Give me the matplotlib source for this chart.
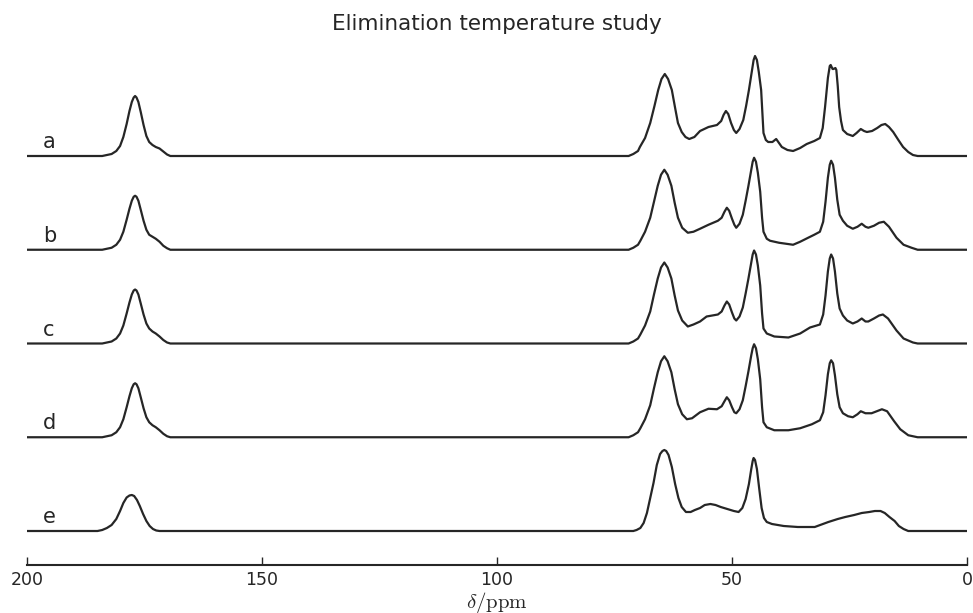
import numpy as np
import matplotlib
matplotlib.use('Agg')
import matplotlib.pyplot as plt

# stacked 13C spectra, intensity (arb. units), chemical shift in ppm
labels = ['a', 'b', 'c', 'd', 'e']

carbonyl_ppm = [200, 184, 183, 182, 181, 180.2, 179.5, 178.8, 178.2, 177.7, 177.3, 177.0,
                176.7, 176.3, 175.8, 175.2, 174.6, 174.0, 173.3, 172.6, 171.8, 171.0, 170.2, 169.5]
carbonyl_a = [0, 0, 1, 2, 5, 10, 19, 32, 45, 54, 58.5, 60, 58.5, 54, 44, 31, 20, 14, 11, 9, 7.5, 4.5, 1.5, 0]
carbonyl_b = [0, 0, 1, 2, 5, 10, 18, 30, 41, 49, 53, 54, 53, 49, 40, 29, 20, 15, 13, 11, 8, 4, 1.5, 0]
carbonyl_c = [0, 0, 1, 2, 5, 10, 18, 30, 41, 49, 53, 54, 53, 49, 40, 29, 20, 15, 12, 10, 7, 3.5, 1, 0]
carbonyl_d = [0, 0, 1, 2, 5, 10, 18, 30, 41, 49, 53, 54, 53, 49, 40, 29, 20, 15, 12, 10, 7, 3.5, 1, 0]

carbonyl_e_ppm = [200, 185, 184, 183, 182, 181, 180.2, 179.5, 178.8, 178.2, 177.7, 177.2,
                  176.6, 176.0, 175.3, 174.6, 173.9, 173.2, 172.5, 171.8]
carbonyl_e = [0, 0, 1, 3, 6, 12, 20, 28, 33.5, 35.5, 36, 35, 31, 25, 17, 10, 5, 2, 0.5, 0]

ali_a_ppm = [72, 71, 70, 69.6, 68.5, 67.4, 66.5, 65.7, 65, 64.3, 63.6, 62.8, 62.1, 61.5, 60.7,
             59.9, 59.1, 58, 56.8, 55, 53.2, 52.3, 51.8, 51.3, 50.8, 50.2, 49.6, 49.1, 48.4,
             47.6, 47, 46.4, 45.8, 45.4, 45.1, 44.7, 44.3, 43.8, 43.5, 43.3, 42.8, 42.3, 41.4,
             40.6, 40.0, 39.4, 38.2, 37.0, 35.5, 34.1, 32.5, 31.3, 30.7, 30.2, 29.6, 29.2, 29.0,
             28.6, 28.4, 28.0, 27.8, 27.5, 27.2, 26.8, 26.4, 25.5, 24.3, 23.5, 22.6, 21.9, 21.3,
             20.2, 19.1, 18.2, 17.4, 16.6, 15.7, 14.6, 13.6, 12.5, 11.5, 10.5, 0]
ali_a = [0, 2, 5, 9, 18, 33, 50, 66, 77, 82, 77, 66, 48, 33, 24,
         19, 17, 19, 25, 29, 31, 35, 41, 45, 42, 33, 26, 23, 27,
         36, 50, 66, 84, 96, 100, 96, 84, 66, 40, 23, 16, 14, 14,
         17, 13, 9, 6, 5, 8, 12, 15, 18, 28, 49, 78, 90, 91,
         87, 87, 88, 86, 70, 49, 35, 26, 22, 20, 23, 27, 25, 24,
         25, 28, 31, 32, 29, 24, 16, 9, 4, 1, 0, 0]

ali_b_ppm = [72, 71, 70, 69.5, 68.5, 67.4, 66.6, 65.8, 65.1, 64.4, 63.7, 62.9, 62.2, 61.5, 60.6,
             59.4, 58.2, 56.8, 55, 53, 52.2, 51.6, 51.1, 50.6, 50, 49.5, 49.1, 48.4, 47.7, 47.1,
             46.5, 45.9, 45.6, 45.3, 44.9, 44.5, 44.0, 43.6, 43.3, 42.6, 41.9, 40, 37, 35.5, 33.8,
             32.5, 31.3, 30.6, 30.1, 29.6, 29.2, 28.9, 28.5, 28.1, 27.6, 27.1, 26.4, 25.5, 24.3,
             23.3, 22.4, 21.6, 21.0, 19.8, 18.7, 17.7, 16.6, 15.0, 13.5, 11.8, 10.5, 0]
ali_b = [0, 2, 5, 9, 18, 32, 48, 64, 75, 80, 75, 64, 47, 32, 22,
         17, 18, 21, 25, 29, 32, 38, 42, 39, 31, 25, 22, 26, 35, 49,
         64, 80, 88, 92, 88, 77, 58, 32, 18, 11, 9, 7, 5, 8, 12,
         15, 18, 28, 48, 72, 85, 89, 85, 72, 50, 35, 29, 24, 21,
         23, 26, 23, 22, 24, 27, 28, 23, 12, 5, 2, 0, 0]

ali_c_ppm = [72, 71, 70, 69.5, 68.5, 67.4, 66.6, 65.8, 65.1, 64.4, 63.7, 62.9, 62.2, 61.5, 60.6,
             59.4, 58.2, 56.8, 55.4, 53, 52.2, 51.6, 51.1, 50.6, 50, 49.5, 49.1, 48.4, 47.7, 47.1,
             46.5, 45.9, 45.6, 45.3, 44.9, 44.5, 44.0, 43.6, 43.3, 42.6, 41, 38, 35.5, 33.4, 31.3,
             30.6, 30.1, 29.6, 29.2, 28.9, 28.5, 28.1, 27.6, 27.1, 26.4, 25.5, 24.3, 23.3, 22.4,
             21.6, 21, 19.8, 18.7, 17.9, 16.8, 15, 13.5, 11.5, 10.5, 0]
ali_c = [0, 2, 5, 9, 18, 32, 49, 65, 76, 81, 76, 65, 48, 33, 23,
         17, 19, 22, 27, 29, 32, 38, 42, 39, 31, 25, 23, 27, 36, 50,
         65, 81, 89, 93, 89, 78, 58, 30, 15, 10, 7, 6, 10, 16, 19,
         29, 48, 72, 85, 89, 85, 72, 50, 35, 28, 23, 20, 22, 25,
         22, 22, 25, 28, 29, 25, 13, 5, 1, 0, 0]

ali_d_ppm = [72, 71, 70, 69.5, 68.5, 67.4, 66.6, 65.8, 65.1, 64.4, 63.7, 62.9, 62.2, 61.5, 60.6,
             59.6, 58.5, 56.8, 55, 53.2, 52.2, 51.6, 51.1, 50.6, 50, 49.5, 49.1, 48.4, 47.7, 47.1,
             46.5, 45.9, 45.6, 45.3, 44.9, 44.5, 44.0, 43.6, 43.3, 42.6, 41, 38, 35.5, 33, 31.3,
             30.6, 30.1, 29.6, 29.2, 28.9, 28.5, 28.1, 27.6, 27.1, 26.4, 25.3, 24.3, 23.3, 22.6,
             21.6, 20.3, 19.2, 18.1, 17, 15.5, 14.2, 12.5, 11.5, 10.5, 0]
ali_d = [0, 2, 5, 9, 18, 32, 49, 65, 76, 81, 76, 65, 48, 33, 23,
         18, 19, 25, 28.5, 28, 31, 36, 40, 37, 30, 25, 24, 28, 37, 51,
         66, 82, 89, 93, 89, 78, 58, 30, 15, 10, 7, 7, 9, 13, 17,
         25, 42, 63, 74, 77, 74, 62, 43, 30, 24, 21, 20, 23, 26,
         24, 24, 26, 28, 26, 16, 8, 2, 1, 0, 0]

ali_e_ppm = [71, 70.3, 69.5, 68.8, 68.1, 67.4, 66.7, 66, 65.3, 64.8, 64.4, 64, 63.5, 62.8, 62.1,
             61.4, 60.7, 59.8, 58.8, 57.9, 56.8, 55.8, 54.6, 53.5, 52.4, 51, 49.6, 48.6, 47.8,
             47.1, 46.4, 45.9, 45.6, 45.4, 45.1, 44.7, 44.2, 43.7, 43.2, 42.6, 41.5, 39, 36, 32.4,
             29.5, 27.5, 25.9, 24, 22.4, 20.8, 19.6, 18.4, 17.5, 16.5, 15.4, 14.5, 13.5, 12.5, 0]
ali_e = [0, 1, 3, 8, 18, 33, 48, 66, 77, 80, 81, 80, 76, 64, 47,
         33, 24, 19, 19, 21, 23, 26, 27, 26, 24, 22, 20, 19, 23,
         32, 47, 62, 70, 73, 71, 62, 42, 23, 13, 9, 7, 5, 4, 4,
         9, 12, 14, 16, 18, 19, 20, 20, 18, 14, 10, 5, 2, 0, 0]

spectra = [
    (carbonyl_ppm + ali_a_ppm, carbonyl_a + ali_a),
    (carbonyl_ppm + ali_b_ppm, carbonyl_b + ali_b),
    (carbonyl_ppm + ali_c_ppm, carbonyl_c + ali_c),
    (carbonyl_ppm + ali_d_ppm, carbonyl_d + ali_d),
    (carbonyl_e_ppm + ali_e_ppm, carbonyl_e + ali_e),
]

step = 93.75   # vertical offset between traces
line_col = '#262626'

fig = plt.figure(figsize=(9.73, 6.13), dpi=100)
ax = fig.add_axes([27 / 973, 48 / 613, 940 / 973, 520 / 613])

n = len(spectra)
for k, (ppm, inten) in enumerate(spectra):
    off = (n - 1 - k) * step
    ax.plot(ppm, np.array(inten) + off, color=line_col, lw=1.6,
            solid_joinstyle='round')
    ax.text(196.6, off + 8, labels[k], fontsize=15, color=line_col, ha='left', va='baseline')

ax.set_xlim(200, 0)
ax.set_ylim(-34, 486)
ax.set_xticks([200, 150, 100, 50, 0])
ax.set_yticks([])
for s in ['left', 'right', 'top']:
    ax.spines[s].set_visible(False)
ax.spines['bottom'].set_color(line_col)
ax.spines['bottom'].set_linewidth(1.5)
ax.tick_params(axis='x', direction='in', length=6, width=1, colors=line_col,
               labelsize=12.5, pad=4)
ax.set_title('Elimination temperature study', fontsize=15.5, color=line_col, pad=11)
ax.set_xlabel(r'$\delta/\mathrm{ppm}$', fontsize=15, color=line_col, labelpad=1,
              math_fontfamily='cm')

fig.savefig('out.png', dpi=100)
